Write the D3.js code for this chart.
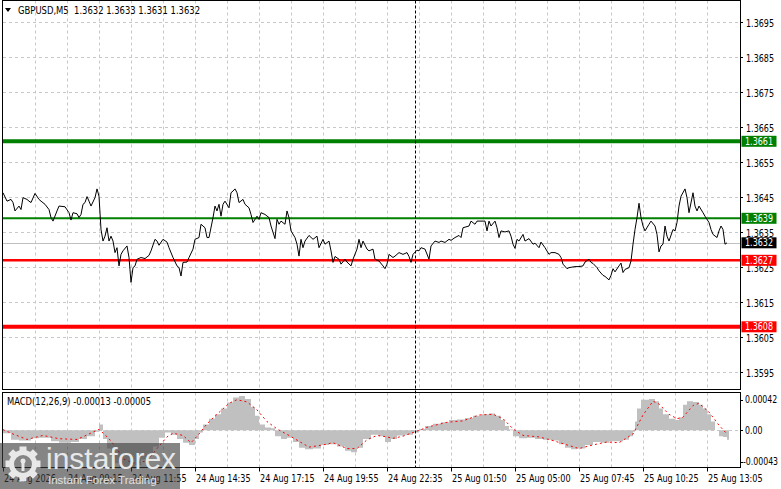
<!DOCTYPE html>
<html lang="en">
<head>
  <meta charset="UTF-8">
  <title>GBPUSD M5</title>
  <style>
    body { margin: 0; background: #fff; }
    svg { display: block; font-family: "DejaVu Sans", Verdana, sans-serif; }
  </style>
</head>
<body>
  <svg></svg>
  <script src="https://cdn.jsdelivr.net/npm/d3@7"></script>
  <script>
    var width = 781
    var height = 489

    // data
    var header = "GBPUSD,M5  1.3632 1.3633 1.3631 1.3632"
    var macdHeader = "MACD(12,26,9) -0.00013 -0.00005"
    var priceTicks = [1.3695, 1.3685, 1.3675, 1.3665, 1.3655, 1.3645, 1.3635, 1.3625, 1.3615, 1.3605, 1.3595]
    var levels = [1.3661, 1.3639, 1.3627, 1.3608]
    var lastPrice = 1.3632
    var separatorBar = 206
    var timeLabels = [
      [0, "24 Aug 2026"], [32, "24 Aug 09:15"], [64, "24 Aug 11:55"], [96, "24 Aug 14:35"],
      [128, "24 Aug 17:15"], [160, "24 Aug 19:55"], [192, "24 Aug 22:35"], [224, "25 Aug 01:50"],
      [256, "25 Aug 05:00"], [288, "25 Aug 07:45"], [320, "25 Aug 10:25"], [352, "25 Aug 13:05"]
    ]
    var macdTicks = [0.00042, 0, -0.00043]
    var macdTickLabels = ["0.00042", "0.00", "-0.00043"]

    // [bar, close]
    var price = [
      [0,1.36463],[2,1.36439],[4,1.36444],[5,1.36435],[6,1.36411],[8,1.36425],[9,1.36415],[10,1.36449],[12,1.36444],[13,1.36439],
      [14,1.36435],[16,1.36461],[18,1.36444],[19,1.36439],[21,1.3643],[23,1.36415],[24,1.36392],[25,1.36382],[27,1.36411],[28,1.36425],
      [31,1.36423],[33,1.36406],[34,1.36385],[35,1.36406],[37,1.36403],[38,1.36392],[39,1.36401],[40,1.3643],[41,1.36435],[42,1.36452],
      [43,1.36439],[44,1.36425],[46,1.36449],[47,1.36474],[48,1.36453],[49,1.36358],[50,1.36325],[51,1.36339],[52,1.36363],[53,1.36325],
      [54,1.36339],[55,1.36325],[56,1.36292],[57,1.36306],[58,1.36254],[59,1.36287],[60,1.36297],[62,1.36311],[63,1.36278],[64,1.36207],
      [65,1.36249],[66,1.36254],[67,1.36273],[69,1.36278],[71,1.36275],[73,1.36284],[74,1.36297],[76,1.3633],[77,1.36325],[78,1.36313],
      [80,1.3633],[82,1.36322],[83,1.36306],[85,1.36278],[87,1.36254],[88,1.36249],[89,1.36225],[90,1.36264],[92,1.36265],[93,1.36278],
      [95,1.36302],[96,1.3633],[98,1.36335],[99,1.36373],[101,1.36363],[102,1.36335],[103,1.36335],[105,1.36392],[106,1.36425],[107,1.36411],
      [108,1.3643],[109,1.36396],[110,1.3643],[111,1.36439],[113,1.3642],[114,1.36463],[115,1.36468],[116,1.36474],[117,1.36463],[118,1.36435],
      [120,1.36444],[121,1.3643],[123,1.3642],[124,1.36401],[125,1.36378],[127,1.36396],[128,1.36387],[129,1.36406],[131,1.36401],[133,1.36392],
      [134,1.36368],[136,1.36332],[137,1.36387],[138,1.36373],[139,1.36382],[141,1.36373],[142,1.36411],[143,1.36392],[144,1.36354],[146,1.36335],
      [147,1.36316],[148,1.36282],[149,1.3633],[150,1.36306],[151,1.36325],[153,1.36341],[155,1.3633],[157,1.36339],[158,1.36306],[160,1.3633],
      [161,1.36316],[163,1.36325],[164,1.36297],[165,1.36264],[166,1.36281],[168,1.36273],[169,1.36259],[171,1.36273],[172,1.36265],[174,1.36254],
      [175,1.36273],[177,1.36302],[178,1.3633],[179,1.36306],[180,1.36325],[182,1.36302],[183,1.36297],[185,1.36302],[186,1.36273],[188,1.36268],
      [190,1.36254],[191,1.36246],[192,1.36259],[193,1.36287],[195,1.36278],[196,1.36282],[197,1.36287],[198,1.36292],[200,1.36287],[202,1.36292],
      [203,1.36281],[204,1.36264],[205,1.36287],[207,1.36299],[208,1.36297],[209,1.36306],[211,1.36302],[213,1.36273],[214,1.36311],[216,1.36325],
      [218,1.36321],[219,1.36325],[221,1.36321],[223,1.3633],[224,1.36327],[226,1.36335],[228,1.36341],[229,1.36335],[230,1.36363],[233,1.36368],
      [234,1.36382],[236,1.36373],[237,1.36382],[239,1.36382],[241,1.36382],[242,1.36354],[243,1.36382],[244,1.36368],[246,1.36382],[247,1.36363],
      [248,1.36335],[249,1.36354],[251,1.36351],[253,1.36354],[254,1.36339],[255,1.36316],[256,1.36304],[257,1.3633],[258,1.36325],[260,1.36344],
      [261,1.36325],[263,1.36332],[265,1.36316],[266,1.36319],[268,1.36306],[269,1.36322],[271,1.36306],[273,1.36287],[274,1.36292],[276,1.36292],
      [278,1.36287],[279,1.36278],[280,1.36259],[282,1.36246],[283,1.36249],[286,1.36252],[288,1.36252],[290,1.36254],[291,1.36265],[293,1.36273],
      [294,1.36264],[295,1.36261],[297,1.36249],[298,1.3624],[300,1.36227],[301,1.36224],[303,1.36214],[304,1.36227],[305,1.36246],[306,1.36237],
      [308,1.36254],[309,1.36262],[310,1.36235],[311,1.36244],[313,1.36249],[314,1.36268],[315,1.36316],[316,1.36358],[317,1.36392],[318,1.36433],
      [319,1.36392],[320,1.36368],[321,1.36354],[323,1.36373],[324,1.36382],[326,1.36368],[327,1.36344],[328,1.36294],[329,1.36311],[330,1.36316],
      [331,1.36368],[332,1.36339],[333,1.36325],[335,1.36358],[336,1.36354],[337,1.36378],[338,1.36425],[339,1.36453],[341,1.36474],[342,1.36449],
      [343,1.36406],[345,1.36463],[346,1.36425],[347,1.36411],[348,1.36425],[350,1.36406],[351,1.36396],[353,1.36378],[354,1.36358],[355,1.36344],
      [357,1.36335],[358,1.36354],[359,1.36368],[360,1.36358],[361,1.36316],[362,1.3632]
    ]

    // MACD main (histogram), [bar, value]
    var macdMain = [
      [0,-0.00004],[4,-0.00013],[8,-0.00014],[14,-0.00011],[18,-0.0001],[24,-0.00015],[28,-0.00017],[34,-0.00016],[38,-0.00012],[42,-0.00008],
      [46,-0.00002],[48,0.00008],[50,-0.00012],[52,-0.00025],[54,-0.00036],[56,-0.00045],[58,-0.0005],[62,-0.00052],[66,-0.00048],[69,-0.0004],
      [72,-0.00032],[75,-0.00022],[78,-0.0001],[81,-0.00003],[84,-0.00006],[87,-0.00012],[90,-0.00017],[93,-0.0002],[96,-0.00012],[98,-0.00003],
      [100,0.00008],[103,0.00016],[106,0.00022],[109,0.0003],[112,0.00038],[115,0.00045],[118,0.00047],[121,0.00043],[124,0.00032],[126,0.0002],
      [128,0.00008],[131,0.00004],[134,0.00003],[136,-0.00008],[139,-0.00012],[142,-0.0001],[145,-0.00016],[148,-0.00024],[151,-0.00026],[155,-0.00025],
      [159,-0.0002],[163,-0.00019],[167,-0.00022],[171,-0.00028],[174,-0.0003],[177,-0.00024],[180,-0.00012],[184,-0.00006],[188,-0.00008],[191,-0.00016],
      [194,-0.00012],[197,-0.00007],[201,-0.00006],[205,-0.00003],[208,0.00002],[211,0.00006],[215,0.00009],[219,0.00011],[223,0.00014],[227,0.00015],
      [231,0.00017],[235,0.0002],[239,0.00022],[243,0.00023],[246,0.0002],[249,0.00014],[251,0.00006],[253,0.00001],[255,-0.00008],[258,-0.00011],
      [262,-0.0001],[266,-0.00012],[270,-0.00013],[274,-0.00014],[278,-0.00019],[281,-0.00024],[284,-0.00026],[287,-0.00025],[291,-0.0002],[295,-0.00016],
      [299,-0.00017],[303,-0.00015],[307,-0.00015],[310,-0.00013],[313,-0.00008],[315,-0.00002],[316,0.00012],[317,0.0003],[319,0.00042],[323,0.00043],
      [326,0.0004],[328,0.0003],[330,0.00022],[333,0.00016],[336,0.00014],[338,0.00018],[340,0.00035],[342,0.0004],[345,0.00039],[348,0.00035],
      [350,0.0003],[352,0.00022],[354,0.00012],[356,0],[358,-0.00008],[360,-0.00009],[362,-0.00013]
    ]

    // MACD signal, [bar, value]
    var macdSignal = [
      [0,0.00001],[5,-0.00005],[12,-0.000125],[20,-0.00007],[28,-0.000115],[37,-0.000125],[43,-0.00005],[48,0.000014],[53,-0.000115],[57,-0.00025],
      [60,-0.00039],[65,-0.00045],[72,-0.00042],[77,-0.00025],[82,-0.00009],[85,-0.00004],[90,-0.00007],[94,-0.00017],[98,-0.00005],[102,0.00009],
      [107,0.00022],[113,0.00037],[117,0.00042],[122,0.00039],[127,0.00028],[132,0.00012],[137,0.00002],[143,-0.00007],[148,-0.00015],[153,-0.00023],
      [160,-0.0002],[165,-0.00017],[172,-0.00025],[177,-0.00025],[182,-0.00013],[187,-0.00007],[192,-0.00009],[195,-0.00011],[200,-0.00008],[207,-0.00001],
      [213,0.00005],[222,0.00011],[230,0.00013],[238,0.00021],[245,0.00022],[250,0.00016],[255,0.00002],[260,-0.00007],[268,-0.00009],[275,-0.00014],
      [282,-0.0002],[288,-0.00025],[295,-0.0002],[302,-0.00016],[308,-0.00017],[315,-0.00005],[320,0.00021],[325,0.0004],[328,0.00036],[333,0.00022],
      [337,0.00016],[340,0.00018],[345,0.00034],[348,0.00037],[353,0.00025],[358,0.00007],[362,-0.00005]
    ]

    var left = 3, right = 740
    var priceTop = 0.5, priceBottom = 389.5
    var macdTop = 392.5, macdBottom = 467.5

    var x = d3.scaleLinear().domain([0, 362]).range([3, 727])
    var y = d3.scaleLinear().domain([1.3595, 1.3695]).range([372.3, 22.3])
    var ym = d3.scaleLinear().domain([-0.00043, 0.00042]).range([461.7, 399.7])

    var svg = d3.select("svg").attr("width", width).attr("height", height)
    var grid = "#c8c8c8"

    // squeeze DejaVu a bit so it runs as narrow as the terminal font
    function narrow(sel, k) {
      sel.each(function () {
        var w = this.getComputedTextLength()
        d3.select(this).attr("textLength", w * (k || 0.8)).attr("lengthAdjust", "spacingAndGlyphs")
      })
    }

    // vertical grid in both panels
    var gridBars = d3.range(16, 361, 16)
    ;[[priceTop, priceBottom], [macdTop, macdBottom]].forEach(function (p) {
      svg.append("g").selectAll("line").data(gridBars).join("line")
        .attr("x1", d => Math.round(x(d)) + 0.5).attr("x2", d => Math.round(x(d)) + 0.5)
        .attr("y1", p[0]).attr("y2", p[1])
        .attr("stroke", grid).attr("stroke-dasharray", "3,3")
    })

    // horizontal price grid
    svg.append("g").selectAll("line").data(priceTicks).join("line")
      .attr("x1", left).attr("x2", right)
      .attr("y1", d => Math.round(y(d)) + 0.5).attr("y2", d => Math.round(y(d)) + 0.5)
      .attr("stroke", grid).attr("stroke-dasharray", "3,3")

    // bid line
    svg.append("line")
      .attr("x1", left).attr("x2", right)
      .attr("y1", Math.round(y(lastPrice)) + 0.5).attr("y2", Math.round(y(lastPrice)) + 0.5)
      .attr("stroke", "#c0c0c0")

    // support / resistance levels
    var levelColor = ["#008000", "#008000", "#ff0000", "#ff0000"]
    var levelWidth = [4, 2, 2.5, 4]
    svg.append("g").selectAll("line").data(levels).join("line")
      .attr("x1", left).attr("x2", right)
      .attr("y1", d => y(d)).attr("y2", d => y(d))
      .attr("stroke", (d, i) => levelColor[i]).attr("stroke-width", (d, i) => levelWidth[i])

    // price line
    svg.append("path").datum(price)
      .attr("d", d3.line().x(d => x(d[0])).y(d => y(d[1])))
      .attr("fill", "none").attr("stroke", "#000").attr("stroke-width", 1)

    // MACD zero level
    svg.append("line")
      .attr("x1", left).attr("x2", right)
      .attr("y1", Math.round(ym(0)) + 0.5).attr("y2", Math.round(ym(0)) + 0.5)
      .attr("stroke", grid).attr("stroke-dasharray", "3,3")

    // MACD histogram
    var last = macdMain[macdMain.length - 1]
    var histPts = macdMain.concat([[last[0] + 1, last[1]]])
    svg.append("path").datum(histPts)
      .attr("d", d3.area().curve(d3.curveStepAfter)
        .x(d => x(d[0])).y0(ym(0)).y1(d => ym(d[1])))
      .attr("fill", "#c0c0c0")

    // MACD signal
    svg.append("path").datum(macdSignal)
      .attr("d", d3.line().x(d => x(d[0])).y(d => ym(d[1])))
      .attr("fill", "none").attr("stroke", "#ff0000").attr("stroke-width", 1)
      .attr("stroke-dasharray", "2,3")

    // separator
    svg.append("line")
      .attr("x1", Math.round(x(separatorBar)) + 0.5).attr("x2", Math.round(x(separatorBar)) + 0.5)
      .attr("y1", priceTop).attr("y2", macdBottom)
      .attr("stroke", "#000").attr("stroke-dasharray", "3,2")

    // frames
    svg.append("rect").attr("x", left - 0.5).attr("y", priceTop).attr("width", right - left + 1).attr("height", priceBottom - priceTop)
      .attr("fill", "none").attr("stroke", "#000")
    svg.append("rect").attr("x", left - 0.5).attr("y", macdTop).attr("width", right - left + 1).attr("height", macdBottom - macdTop)
      .attr("fill", "none").attr("stroke", "#000")

    // price axis
    var pAxis = svg.append("g").attr("font-size", 10)
    pAxis.selectAll("line").data(priceTicks).join("line")
      .attr("x1", right).attr("x2", right + 3)
      .attr("y1", d => Math.round(y(d)) + 0.5).attr("y2", d => Math.round(y(d)) + 0.5)
      .attr("stroke", "#000")
    pAxis.selectAll("text").data(priceTicks).join("text")
      .attr("x", 746).attr("y", d => y(d) + 1).attr("dy", "0.35em")
      .text(d => d.toFixed(4))
      .call(narrow)

    // level tags
    var tags = svg.append("g").attr("font-size", 10)
    levels.forEach(function (v, i) {
      tags.append("rect").attr("x", 741.5).attr("y", y(v) - 5.5).attr("width", 35).attr("height", 11).attr("fill", levelColor[i])
      tags.append("text").attr("x", 745).attr("y", y(v)).attr("dy", "0.36em").attr("fill", "#fff").text(v.toFixed(4)).call(narrow)
    })
    tags.append("rect").attr("x", 741.5).attr("y", y(lastPrice) - 5.5).attr("width", 35).attr("height", 11).attr("fill", "#000")
    tags.append("text").attr("x", 745).attr("y", y(lastPrice)).attr("dy", "0.36em").attr("fill", "#fff").text(lastPrice.toFixed(4)).call(narrow)

    // MACD axis
    var mAxis = svg.append("g").attr("font-size", 10)
    mAxis.selectAll("line").data(macdTicks).join("line")
      .attr("x1", right).attr("x2", right + 3)
      .attr("y1", d => Math.round(ym(d)) + 0.5).attr("y2", d => Math.round(ym(d)) + 0.5)
      .attr("stroke", "#000")
    mAxis.selectAll("text").data(macdTicks).join("text")
      .attr("x", d => d < 0 ? 743 : 745).attr("y", d => ym(d)).attr("dy", "0.35em")
      .text((d, i) => macdTickLabels[i])
      .call(narrow, 0.78)

    // time axis
    var tAxis = svg.append("g").attr("font-size", 10)
    tAxis.selectAll("line").data(timeLabels).join("line")
      .attr("x1", d => Math.round(x(d[0])) + 0.5).attr("x2", d => Math.round(x(d[0])) + 0.5)
      .attr("y1", macdBottom).attr("y2", macdBottom + 4)
      .attr("stroke", "#000")
    tAxis.selectAll("text").data(timeLabels).join("text")
      .attr("x", d => x(d[0]) + 1).attr("y", 482)
      .text(d => d[1])
      .call(narrow, 0.81)

    // headers
    svg.append("path").attr("d", "M5,8 L11,8 L8,12 Z").attr("fill", "#000")
    svg.append("text").attr("x", 18).attr("y", 14).attr("font-size", 10)
      .style("white-space", "pre")
      .attr("textLength", 182).attr("lengthAdjust", "spacingAndGlyphs")
      .text(header)
    svg.append("text").attr("x", 7).attr("y", 405).attr("font-size", 10)
      .attr("textLength", 144).attr("lengthAdjust", "spacingAndGlyphs")
      .text(macdHeader)

    // watermark
    var wm = svg.append("g").attr("font-family", "'Liberation Sans', Arial, sans-serif")
    wm.append("rect").attr("x", 0).attr("y", 443).attr("width", 180).attr("height", 46)
      .attr("fill", "#3a3a3a").attr("opacity", 0.62)
    var gear = wm.append("g").attr("transform", "translate(23,464)").attr("fill", "#e8e8e8")
    gear.selectAll("rect").data(d3.range(8)).join("rect")
      .attr("x", -3.5).attr("y", -17.5).attr("width", 7).attr("height", 8)
      .attr("transform", d => "rotate(" + d * 45 + ")")
    gear.append("circle").attr("r", 11.5).attr("fill", "none").attr("stroke", "#e8e8e8").attr("stroke-width", 5)
    gear.append("circle").attr("r", 2.5).attr("cy", -3)
    gear.append("rect").attr("x", -1.5).attr("y", -1).attr("width", 3).attr("height", 8)
    wm.append("text").attr("x", 46).attr("y", 469).attr("font-size", 30).attr("fill", "#e8e8e8").text("instaforex")
    wm.append("text").attr("x", 48).attr("y", 484).attr("font-size", 11.5).attr("fill", "#e0e0e0").text("Instant Forex Trading")
  </script>
</body>
</html>
